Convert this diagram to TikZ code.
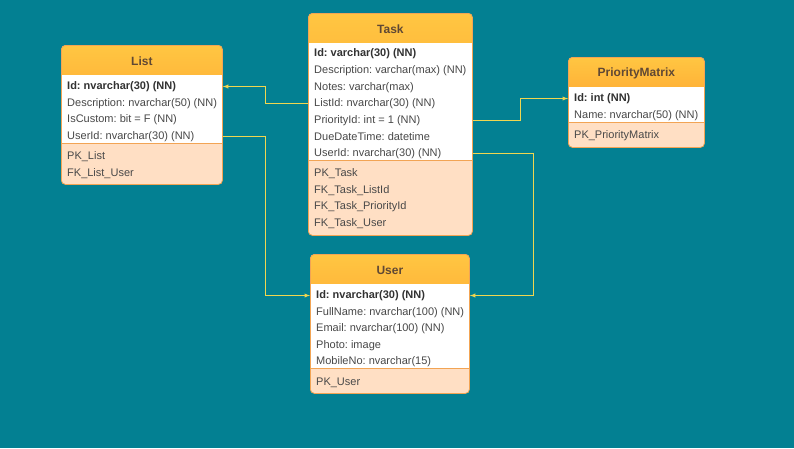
\documentclass[tikz,border=0pt]{standalone}
\usepackage{fontspec}
\setmainfont{Liberation Sans}
\frenchspacing
\usetikzlibrary{arrows}
\definecolor{bgteal}{RGB}{3,128,146}
\definecolor{headtop}{RGB}{255,198,66}
\definecolor{headbot}{RGB}{255,140,36}
\definecolor{headtext}{RGB}{96,72,52}
\definecolor{rowtext}{RGB}{72,72,72}
\definecolor{keytext}{RGB}{50,50,50}
\definecolor{tblfoot}{RGB}{255,223,196}
\definecolor{tblframe}{RGB}{242,164,84}
\definecolor{linkcol}{RGB}{240,214,80}
\tikzset{
  tbl/.style={draw=tblframe, line width=0.8pt, fill=tblfoot, rounded corners=4pt,
    anchor=north west, inner sep=0pt,
    path picture={
      \shade[sharp corners, top color=headtop, bottom color=headbot]
        (path picture bounding box.north west) rectangle ([yshift=-30pt]path picture bounding box.north east);
      \fill[sharp corners, white]
        ([yshift=-30pt]path picture bounding box.north west) rectangle ([yshift=-#1pt]path picture bounding box.north east);
      \draw[sharp corners, tblframe, line width=0.8pt]
        ([yshift=-#1pt]path picture bounding box.north west) -- ([yshift=-#1pt]path picture bounding box.north east);
    }},
  title/.style={inner sep=0pt, yshift=-1.5pt, text=headtext, font=\bfseries\fontsize{12}{14}\selectfont},
  field/.style={anchor=west, inner sep=0pt, yshift=-1.5pt, text=rowtext, font=\fontsize{11}{13}\selectfont},
  key/.style={field, text=keytext, font=\bfseries\fontsize{11}{13}\selectfont},
  link/.style={->, draw=linkcol, line width=0.9pt}
}
\begin{document}
\begin{tikzpicture}[x=1pt, y=-1pt, >=latex]
    \fill[bgteal] (0,0) rectangle (794,448);

    % List
    \node[tbl=98, minimum width=161, minimum height=139] (list) at (61,45) {};
    \node[title] (list-title) at ([yshift=-15pt]list.north) {List};
    \node[key] (list-id) at (67,85) {Id: nvarchar(30) (NN)};
    \node[field] (list-desc) at (67,102) {Description: nvarchar(50) (NN)};
    \node[field] (list-custom) at (67,118) {IsCustom: bit = F (NN)};
    \node[field] (list-userid) at (67,135) {UserId: nvarchar(30) (NN)};
    \node[field] (list-pk) at (67,155) {PK\_List};
    \node[field] (list-fk) at (67,172) {FK\_List\_User};

    % Task
    \node[tbl=147, minimum width=164, minimum height=222] (task) at (308,13) {};
    \node[title] (task-title) at ([yshift=-15pt]task.north) {Task};
    \node[key] (task-id) at (314,52) {Id: varchar(30) (NN)};
    \node[field] (task-desc) at (314,69) {Description: varchar(max) (NN)};
    \node[field] (task-notes) at (314,86) {Notes: varchar(max)};
    \node[field] (task-listid) at (314,102) {ListId: nvarchar(30) (NN)};
    \node[field] (task-priorityid) at (314,119) {PriorityId: int = 1 (NN)};
    \node[field] (task-due) at (314,135) {DueDateTime: datetime};
    \node[field] (task-userid) at (314,152) {UserId: nvarchar(30) (NN)};
    \node[field] (task-pk) at (314,172) {PK\_Task};
    \node[field] (task-fk1) at (314,189) {FK\_Task\_ListId};
    \node[field] (task-fk2) at (314,205) {FK\_Task\_PriorityId};
    \node[field] (task-fk3) at (314,222) {FK\_Task\_User};

    % PriorityMatrix
    \node[tbl=65, minimum width=136, minimum height=90] (pm) at (568,57) {};
    \node[title] (pm-title) at ([yshift=-15pt]pm.north) {PriorityMatrix};
    \node[key] (pm-id) at (574,97) {Id: int (NN)};
    \node[field] (pm-name) at (574,114) {Name: nvarchar(50) (NN)};
    \node[field] (pm-pk) at (574,134) {PK\_PriorityMatrix};

    % User
    \node[tbl=114, minimum width=159, minimum height=139] (user) at (310,254) {};
    \node[title] (user-title) at ([yshift=-15pt]user.north) {User};
    \node[key] (user-id) at (316,294) {Id: nvarchar(30) (NN)};
    \node[field] (user-name) at (316,311) {FullName: nvarchar(100) (NN)};
    \node[field] (user-email) at (316,327) {Email: nvarchar(100) (NN)};
    \node[field] (user-photo) at (316,344) {Photo: image};
    \node[field] (user-mobile) at (316,360) {MobileNo: nvarchar(15)};
    \node[field] (user-pk) at (316,381) {PK\_User};

    % foreign keys
    \draw[link] (task-listid -| task.west) -- ++(-43,0) |- (list-id -| list.east);
    \draw[link] (list-userid -| list.east) -- ++(43,0) |- (user-id -| user.west);
    \draw[link] (task-priorityid -| task.east) -- ++(48,0) |- (pm-id -| pm.west);
    \draw[link] (task-userid -| task.east) -- ++(61,0) |- (user-id -| user.east);
\end{tikzpicture}
\end{document}
